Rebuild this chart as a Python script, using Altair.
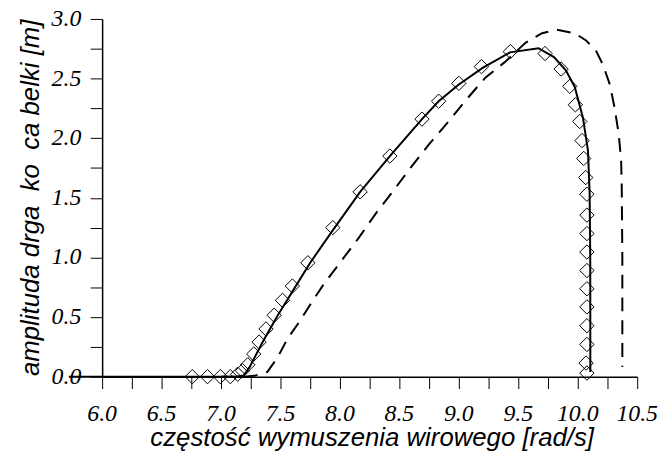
import altair as alt
import pandas as pd

# solid curve (model)
solid_x = [5.72, 7.12, 7.19, 7.24, 7.35, 7.475, 7.61, 7.75, 7.92, 8.17, 8.42, 8.69, 8.83,
           9.0, 9.2, 9.43, 9.67, 9.80, 9.90, 9.975, 10.044, 10.086, 10.10, 10.105, 10.106]
solid_y = [0.0, 0.0, 0.01, 0.08, 0.29, 0.51, 0.73, 0.955, 1.20, 1.55, 1.85, 2.16, 2.31,
           2.45, 2.59, 2.72, 2.755, 2.68, 2.57, 2.43, 2.17, 1.895, 1.54, 1.0, 0.04]

# diamond markers
diam_x = [6.758, 6.886, 6.994, 7.078, 7.14, 7.18, 7.225, 7.275, 7.32, 7.378, 7.447, 7.517,
          7.60, 7.73, 7.94, 8.17, 8.42, 8.69, 8.83, 9.0, 9.19, 9.433, 9.725, 9.86, 9.933,
          9.98, 10.017, 10.036, 10.05, 10.067, 10.077, 10.077, 10.077, 10.077, 10.077,
          10.077, 10.077, 10.077, 10.077, 10.07, 10.077]
diam_y = [0.0, 0.0, 0.0, 0.0, 0.02, 0.05, 0.10, 0.19, 0.29, 0.40, 0.515, 0.64,
          0.76, 0.955, 1.25, 1.55, 1.85, 2.16, 2.31, 2.46, 2.60, 2.726, 2.71, 2.58, 2.435,
          2.28, 2.14, 1.98, 1.83, 1.67, 1.53, 1.355, 1.20, 1.045, 0.89,
          0.737, 0.585, 0.427, 0.27, 0.114, 0.03]

# dashed curve
dash_x = [7.0, 7.2, 7.29, 7.39, 7.475, 7.56, 7.655, 7.767, 7.86, 8.155, 8.31, 8.45, 8.6,
          8.75, 8.905, 9.06, 9.225, 9.39, 9.56, 9.70, 9.82, 9.975, 10.07, 10.155, 10.21,
          10.27, 10.31, 10.345, 10.365, 10.37, 10.375, 10.375]
dash_y = [0.0, 0.0, 0.01, 0.04, 0.16, 0.32, 0.455, 0.63, 0.77, 1.16, 1.38, 1.56, 1.76,
          1.95, 2.13, 2.32, 2.51, 2.64, 2.80, 2.88, 2.91, 2.88, 2.82, 2.73, 2.62,
          2.45, 2.255, 2.03, 1.81, 1.59, 1.0, 0.08]

# ticks and tick labels
x_ticks = [6.0 + 0.25 * i for i in range(19)]
y_ticks = [0.25 * i for i in range(13)]
x_label_vals = [6.0, 6.5, 7.0, 7.5, 8.0, 8.5, 9.0, 9.5, 10.0, 10.5]
x_label_text = ["6.0", "6.5", "7.0", "7.5", "8.0", "8.5", "9.0", "9.5", "10.0", "10.5"]
y_label_vals = [0.0, 0.5, 1.0, 1.5, 2.0, 2.5, 3.0]
y_label_text = ["0.0", "0.5", "1.0", "1.5", "2.0", "2.5", "3.0"]

solid_df = pd.DataFrame({"x": solid_x, "y": solid_y, "i": range(len(solid_x))})
diam_df = pd.DataFrame({"x": diam_x, "y": diam_y})
dash_df = pd.DataFrame({"x": dash_x, "y": dash_y, "i": range(len(dash_x))})
xlab_df = pd.DataFrame({"v": x_label_vals, "t": x_label_text})
ylab_df = pd.DataFrame({"v": y_label_vals, "t": y_label_text})

W, H = 540, 361
xs = alt.Scale(domain=[6.0, 10.5], nice=False, zero=False)
ys = alt.Scale(domain=[0.0, 3.0], nice=False)

x_axis = alt.Axis(
    values=x_ticks, labels=False, grid=False,
    title="częstość wymuszenia wirowego [rad/s]",
    titleX=272, titleY=69, titleAlign="center", titleBaseline="alphabetic",
)
y_axis = alt.Axis(
    values=y_ticks, labels=False, grid=False,
    title="amplituda drga\u00a0\u00a0ko\u00a0\u00a0ca belki [m]",
    titleX=-72, titleY=180, titleAngle=270, titleAlign="center", titleBaseline="middle",
)

solid = alt.Chart(solid_df).mark_line(color="black", strokeWidth=2).encode(
    x=alt.X("x:Q", scale=xs, axis=x_axis),
    y=alt.Y("y:Q", scale=ys, axis=y_axis),
    order="i:Q",
)
dashed = alt.Chart(dash_df).mark_line(color="black", strokeWidth=2, strokeDash=[14, 9]).encode(
    x=alt.X("x:Q", scale=xs, axis=x_axis),
    y=alt.Y("y:Q", scale=ys, axis=y_axis),
    order="i:Q",
)
diamonds = alt.Chart(diam_df).mark_point(
    shape="diamond", filled=False, size=210, color="black", strokeWidth=1, opacity=1
).encode(
    x=alt.X("x:Q", scale=xs, axis=x_axis),
    y=alt.Y("y:Q", scale=ys, axis=y_axis),
)

label_style = dict(font="Times New Roman, Liberation Serif, DejaVu Serif, serif",
                   fontStyle="italic", fontSize=24, color="black")
xlabels = alt.Chart(xlab_df).mark_text(align="center", baseline="middle", **label_style).encode(
    x=alt.X("v:Q", scale=xs, axis=x_axis),
    y=alt.value(H + 38),
    text="t:N",
)
ylabels = alt.Chart(ylab_df).mark_text(align="right", baseline="middle", **label_style).encode(
    x=alt.value(-21),
    y=alt.Y("v:Q", scale=ys, axis=y_axis),
    text="t:N",
)

chart = alt.layer(solid, dashed, diamonds, xlabels, ylabels).properties(
    width=W, height=H,
    autosize=alt.AutoSizeParams(type="none"),
    padding={"left": 95, "top": 9, "right": 22, "bottom": 75},
    background="white",
).configure_view(strokeWidth=0).configure_axis(
    tickSize=12, tickColor="black", tickWidth=1, domainColor="black", domainWidth=1.5,
    titleFont="Liberation Sans", titleFontStyle="italic", titleFontWeight="normal",
    titleFontSize=26, titleColor="black",
)

chart.save("out.html", embed_options={"renderer": "svg", "actions": False})
